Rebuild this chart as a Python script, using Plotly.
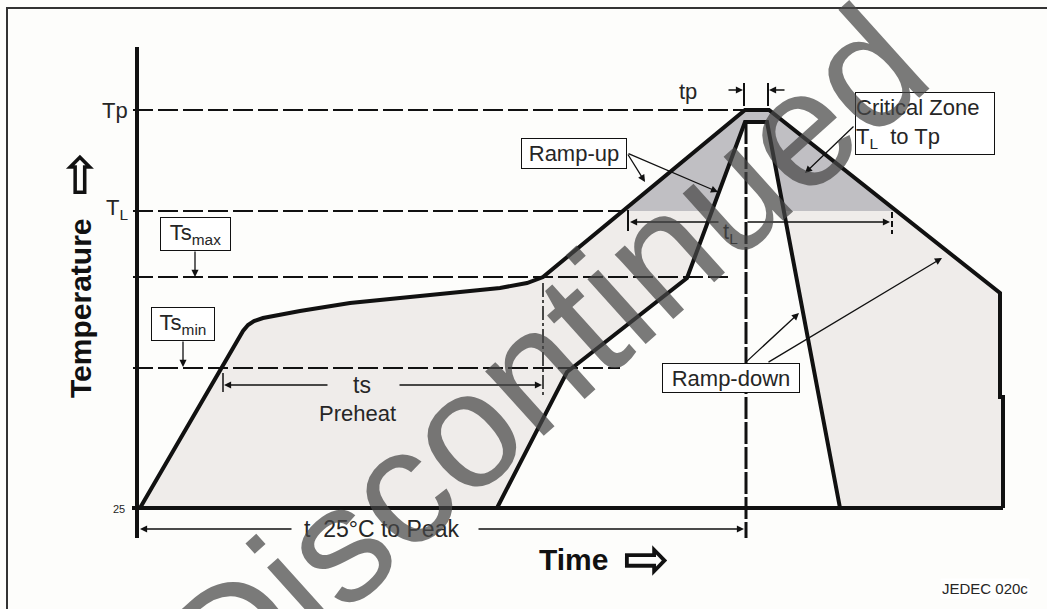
import plotly.graph_objects as go

# Reflow profile sketch (JEDEC J-STD-020C style).
# Time and temperature are in drawing units; temperature grows downward on the axis.
W, H = 1047, 609
FONT = "Arial, 'Liberation Sans', sans-serif"
INK = "#111111"
TEXT = "#262626"
LIGHT_FILL = "#efecea"
ZONE_FILL = "#c0bfc3"
PAPER = "#fdfdfb"

# outer profile (upper envelope)
outer_time = [140, 243, 248, 254, 263, 300, 350, 400, 450, 500, 527, 543, 745, 769, 1000, 1000, 1003, 1003]
outer_temp = [508, 331, 325, 321, 318, 311, 303, 298, 293, 288, 283, 277, 110, 110, 293, 397, 397, 508]

# inner profile (lower envelope)
inner_time = [497, 567, 687, 745, 767, 840]
inner_temp = [508, 372, 278, 122, 122, 508]

# critical zone (T_L to Tp) under the outer profile
zone_time = [625, 745, 769, 896]
zone_temp = [211, 110, 110, 211]

# temperature levels: Tp, T_L, Ts_max, Ts_min
level_temp = [110, 211, 277, 368]
level_end = [745, 625, 728, 620]
base_temp = 508
axis_time = 137

fig = go.Figure()


def poly(xs, ys, color):
    fig.add_trace(go.Scatter(x=xs + [xs[0]], y=ys + [ys[0]], mode="lines", fill="toself",
                             fillcolor=color, line=dict(width=0), hoverinfo="skip"))


def seg(xs, ys, width=2, dash="solid", color=INK):
    fig.add_trace(go.Scatter(x=xs, y=ys, mode="lines", hoverinfo="skip",
                             line=dict(color=color, width=width, dash=dash)))


def arrow(head, tail, width=1.3):
    fig.add_annotation(x=head[0], y=head[1], ax=tail[0], ay=tail[1],
                       xref="x", yref="y", axref="x", ayref="y", text="",
                       showarrow=True, arrowhead=2, arrowsize=1.1,
                       arrowwidth=width, arrowcolor=INK, standoff=0)


def label(x, y, text, size=22, **kw):
    fig.add_annotation(x=x, y=y, xref="x", yref="y", text=text, showarrow=False,
                       font=dict(family=FONT, size=size, color=TEXT), **kw)


def box(x, y, text, w, h, size=22, align="center"):
    fig.add_annotation(x=x, y=y, xref="x", yref="y", text=text, showarrow=False,
                       width=w, height=h, align=align, bgcolor="white",
                       bordercolor=INK, borderwidth=1, borderpad=0,
                       font=dict(family=FONT, size=size, color=TEXT))


# fills
poly(outer_time + [140], outer_temp + [base_temp], LIGHT_FILL)
poly(zone_time, zone_temp, ZONE_FILL)
poly(inner_time, inner_temp, PAPER)

# frame (only top and left edges are inside the picture)
seg([7, 7, W + 10], [H + 10, 8, 8], width=2, color="#333333")

# dashed temperature levels
for t, end in zip(level_temp, level_end):
    seg([axis_time - 4, end], [t, t], width=2, dash="20px,5px")

# profile lines
seg(outer_time, outer_temp, width=4)
seg(inner_time, inner_temp, width=4)

# axes
seg([axis_time, axis_time], [47, 538], width=4)
seg([132, 1003], [base_temp, base_temp], width=4)

# peak time marker and ts end marker
seg([746, 746], [122, 538], width=3, dash="22px,3px")
seg([543, 543], [283, 397], width=1.5, dash="14px,3px,3px,3px")

# small ticks
seg([223, 223], [373, 392], width=1.5)
seg([628, 628], [210, 231], width=2)
seg([892, 892], [212, 234], width=2, dash="6px,3px")
seg([744, 744], [83, 106], width=2)
seg([768, 768], [83, 106], width=2)

# level labels on the left
label(130, 110, "Tp", xanchor="right")
label(130, 209, "T<sub>L</sub>", xanchor="right")
label(127, 509, "25", size=11, xanchor="right")

# boxes with pointers
box(195.5, 234, "Ts<sub>max</sub>", 69, 32)
arrow((195, 277), (195, 250))
box(183, 324, "Ts<sub>min</sub>", 62, 32)
arrow((183, 367), (183, 340))

box(574, 153.5, "Ramp-up", 104, 29)
arrow((645, 182), (627, 153))
arrow((718, 192), (627, 153))

box(925, 123.5, "Critical Zone<br>T<sub>L</sub>  to Tp", 138, 61, align="left")
arrow((805, 173), (855, 125))

arrow((799, 313), (745, 363))
arrow((942, 258), (767, 363))
box(731, 378, "Ramp-down", 136, 28)

# ts / Preheat
label(362, 385, "ts", size=23)
label(357, 413, "Preheat")
arrow((224, 385), (329, 385))
arrow((542, 385), (398, 385))

# t_L
label(730, 233, "t<sub>L</sub>")
arrow((630, 222), (720, 222))
arrow((890, 222), (746, 222))

# tp
label(688, 91, "tp")
arrow((743, 90), (727, 90))
arrow((769, 90), (786, 90))

# t 25C to peak
label(381, 529, "t  25°C to Peak", size=23)
arrow((140, 529), (293, 529))
arrow((744, 529), (477, 529))

# axis titles with hollow arrows
fig.add_annotation(x=80, y=308, xref="x", yref="y", text="<b>Temperature</b>",
                   textangle=-90, showarrow=False,
                   font=dict(family=FONT, size=30, color=INK))
fig.add_annotation(x=80, y=176, xref="x", yref="y", text="<b>⇧</b>",
                   showarrow=False, font=dict(family="DejaVu Sans", size=52, color=INK))
fig.add_annotation(x=573, y=559, xref="x", yref="y", text="<b>Time</b>",
                   showarrow=False, font=dict(family=FONT, size=30, color=INK))
fig.add_annotation(x=646, y=558, xref="x", yref="y", text="<b>⇨</b>",
                   showarrow=False, font=dict(family="DejaVu Sans", size=56, color=INK))

label(985, 588, "JEDEC 020c", size=15, bgcolor="white")

# watermark
fig.add_annotation(x=545, y=358, xref="x", yref="y", text="Discontinued",
                   textangle=-42, showarrow=False,
                   font=dict(family=FONT, size=165, color="rgba(70,70,70,0.72)"))

fig.update_layout(
    width=W, height=H,
    margin=dict(l=0, r=0, t=0, b=0),
    paper_bgcolor=PAPER, plot_bgcolor=PAPER,
    showlegend=False,
    xaxis=dict(range=[0, W], visible=False, fixedrange=True),
    yaxis=dict(range=[H, 0], visible=False, fixedrange=True),
)

fig.write_html("out.html", config=dict(displayModeBar=False),
               post_script="document.documentElement.style.overflow='hidden';"
                           "document.body.style.margin='0';document.body.style.overflow='hidden';")
